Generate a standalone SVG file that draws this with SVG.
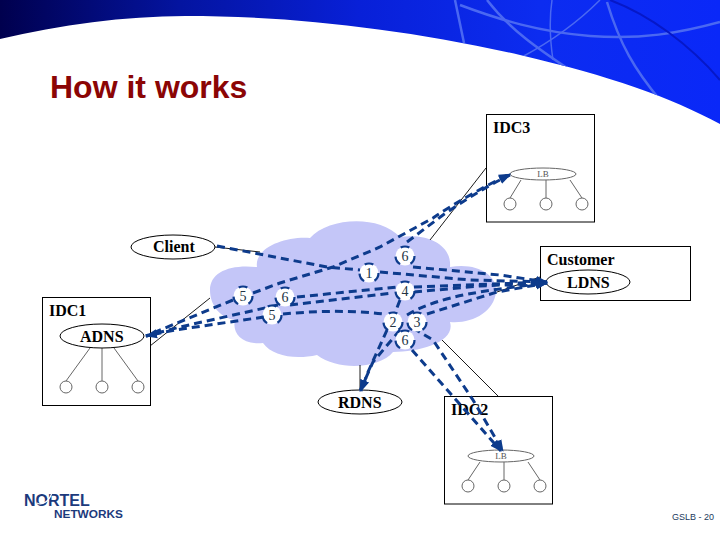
<svg xmlns="http://www.w3.org/2000/svg" width="720" height="540" viewBox="0 0 720 540">
<style>
.box{fill:#fff;stroke:#000;stroke-width:1}
.el{fill:#fff;stroke:#000;stroke-width:1}
.lb{fill:#fff;stroke:#666;stroke-width:1}
.gr{fill:none;stroke:#666;stroke-width:1}
.thin{fill:none;stroke:#000;stroke-width:.9}
.d{fill:none;stroke:#0d3b8c;stroke-width:3;stroke-dasharray:8 5}
.a{marker-end:url(#ah)}
.t{font-family:"Liberation Serif",serif;font-size:16px;font-weight:bold;fill:#000}
.tl{font-family:"Liberation Serif",serif;font-size:9px;fill:#555;text-anchor:middle}
.n circle{fill:#fff;stroke:#0d3b8c;stroke-width:2.2;stroke-dasharray:9 11}
.n text{font-family:"Liberation Serif",serif;font-size:14px;fill:#234;text-anchor:middle}
.st{fill:none;stroke:#4a68f2;stroke-width:2.500}
</style>
<defs>
<linearGradient id="bg" x1="0" y1="0" x2="720" y2="0" gradientUnits="userSpaceOnUse">
<stop offset="0" stop-color="#00004e"/><stop offset=".25" stop-color="#0414a0"/><stop offset=".5" stop-color="#0820d8"/><stop offset=".75" stop-color="#0c2cf0"/><stop offset="1" stop-color="#0a28f8"/>
</linearGradient>
<clipPath id="bc"><path id="bp" d="M0 39C60 25 125 16 185 16C290 16 400 28 520 55C610 76 670 97 720 124V0H0Z"/></clipPath>
<marker id="ah" markerUnits="userSpaceOnUse" markerWidth="13" markerHeight="10" refX="11" refY="5" orient="auto"><path d="M0 .5L12 5L0 9.500Z" fill="#0d3b8c"/></marker>
</defs>
<rect width="720" height="540" fill="#fff"/>
<g id="banner" clip-path="url(#bc)">
<rect width="720" height="130" fill="url(#bg)"/>
<path class="st" d="M455 0L464 43"/>
<path class="st" d="M460 5C500 20 540 32 590 36C640 40 680 33 720 22"/>
<path class="st" d="M487 0C510 30 540 50 570 70"/>
<path class="st" style="stroke-width:1.500" d="M600 0C575 25 550 42 522 57"/>
<path class="st" d="M607 2C620 45 635 70 660 100"/>
<path class="st" style="stroke-width:1.500" d="M552 0C549 20 550 40 553 60"/>
<path fill="none" stroke="#0618c8" stroke-width="2" d="M610 0C650 15 690 45 720 80"/>
</g>
<text id="title" x="50" y="98" font-family="Liberation Sans,sans-serif" font-size="32" font-weight="bold" fill="#8b0505">How it works</text>
<path id="cloud" fill="#c4c6f8" d="M210 290C210 272 230 264 257 267C254 248 285 236 310 238C328 218 378 214 400 237C428 233 452 245 450 267C478 262 498 276 496 292C494 312 472 324 450 322C456 342 420 352 393 352C380 368 340 372 317 355C295 360 272 356 263 343C240 345 232 332 235 320C220 318 210 305 210 290Z"/>
<g id="background-links">
<path class="thin" d="M486 168L430 240"/>
<path class="thin" d="M540 277L497 292"/>
<path class="thin" d="M215 247L260 252"/>
<path class="thin" d="M150 346L210 298"/>
<path class="thin" d="M360 365V390"/>
<path class="thin" d="M442 340L498 396"/>
</g>
<g id="idc3"><rect class="box" x="486.500" y="114.500" width="108" height="107.500"/><text class="t" x="493" y="133">IDC3</text>
<path class="gr" d="M521 180L510 198M546 180V198M570 180L582 198"/><ellipse class="lb" cx="543" cy="174" rx="33" ry="6"/><text class="tl" x="543" y="177">LB</text>
<circle class="lb" cx="510" cy="204" r="6"/><circle class="lb" cx="546" cy="204" r="6"/><circle class="lb" cx="582" cy="204" r="6"/></g>
<g id="customer"><rect class="box" x="540.500" y="246.500" width="150" height="54"/><text class="t" x="547" y="265">Customer</text><ellipse class="el" cx="588" cy="282" rx="42" ry="12"/><text class="t" x="567" y="288">LDNS</text></g>
<g id="client"><ellipse class="el" cx="173" cy="247" rx="42" ry="12"/><text class="t" x="153" y="252">Client</text></g>
<g id="idc1"><rect class="box" x="42.500" y="297.500" width="108" height="108"/><text class="t" x="49" y="316">IDC1</text>
<path class="gr" d="M90 348L66 381M102 348V381M114 348L138 381"/><ellipse class="el" cx="102" cy="336" rx="42" ry="12"/><text class="t" x="80" y="342">ADNS</text>
<circle class="lb" cx="66" cy="387" r="6"/><circle class="lb" cx="102" cy="387" r="6"/><circle class="lb" cx="138" cy="387" r="6"/></g>
<g id="rdns"><ellipse class="el" cx="360" cy="402" rx="42" ry="12"/><text class="t" x="338" y="408">RDNS</text></g>
<g id="idc2"><rect class="box" x="444.500" y="396.500" width="108" height="107.500"/><text class="t" x="451" y="415">IDC2</text>
<path class="gr" d="M480 462L468 480M504 462V480M528 462L540 480"/><ellipse class="lb" cx="501" cy="456" rx="33" ry="6"/><text class="tl" x="501" y="459">LB</text>
<circle class="lb" cx="468" cy="486" r="6"/><circle class="lb" cx="504" cy="486" r="6"/><circle class="lb" cx="540" cy="486" r="6"/></g>
<g id="connectors">
<path class="d" d="M217 246L327 267L360 270"/>
<path class="d a" d="M380 272L470 280L547 282"/>
<path class="d a" d="M253 293L280 283L333 267L380 247L433 218C455 203 485 186 510 174"/>
<path class="d a" d="M407 242L443 215C465 200 485 187 510 175"/>
<path class="d a" d="M413 267L500 275L547 282"/>
<path class="d a" d="M414 287L547 282"/>
<path class="d a" d="M414 292L480 286L547 283"/>
<path class="d a" d="M407 315C440 295 490 290 547 283"/>
<path class="d a" d="M427 314L497 292L547 283"/>
<path class="d" d="M297 297L397 287"/>
<path class="d" d="M290 305L393 293"/>
<path class="d" d="M283 314C315 311 350 310 383 314"/>
<path class="d" d="M400 300L393 318"/>
<path class="d a" d="M387 330L368 372L361 391"/>
<path class="d a" d="M400 330L373 362L360 391"/>
<path class="d a" d="M412 350L450 393L501 451"/>
<path class="d a" d="M413 328L433 340L473 400L503 451"/>
<path class="d" d="M233 300L177 323L146 336"/>
<path class="d" d="M278 305L180 327L146 336"/>
<path class="d a" d="M264 317L175 330L146 336"/>
</g>
<g id="step-labels" class="n">
<g><circle cx="405" cy="256" r="9.500"/><text x="405" y="261">6</text></g>
<g><circle cx="369" cy="273" r="9.500"/><text x="369" y="278">1</text></g>
<g><circle cx="405" cy="291" r="9.500"/><text x="405" y="296">4</text></g>
<g><circle cx="243" cy="296" r="9.500"/><text x="243" y="301">5</text></g>
<g><circle cx="285" cy="297" r="9.500"/><text x="285" y="302">6</text></g>
<g><circle cx="272" cy="315" r="9.500"/><text x="272" y="320">5</text></g>
<g><circle cx="393" cy="322" r="9.500"/><text x="393" y="327">2</text></g>
<g><circle cx="417" cy="322" r="9.500"/><text x="417" y="327">3</text></g>
<g><circle cx="405" cy="340" r="9.500"/><text x="405" y="345">6</text></g>
</g>
<g id="logo" font-family="Liberation Sans,sans-serif" font-weight="bold" fill="#1c3a7c">
<text x="24" y="506" font-size="16">NORTEL</text>
<text x="54" y="518" font-size="11.800">NETWORKS</text>
<path d="M37 503C42 506 50 501 52 492" fill="none" stroke="#fff" stroke-width="1.200"/>
</g>
<text id="page" x="672" y="520" font-family="Liberation Sans,sans-serif" font-size="9" fill="#1c3a5c">GSLB - 20</text>
</svg>
